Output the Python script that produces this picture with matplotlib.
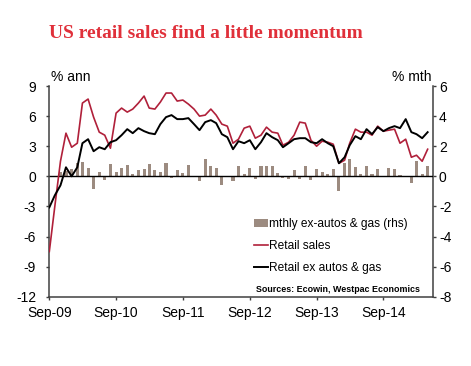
import numpy as np
import pandas as pd
import matplotlib
matplotlib.use("Agg")
import matplotlib.pyplot as plt
import matplotlib.dates as mdates
from matplotlib.patches import Patch
from matplotlib.lines import Line2D

# ── Data (Sep-09 .. May-15, monthly) ─────────────────────────
months = pd.date_range("2009-09-01", periods=69, freq="MS")

retail_sales = [
    -7.5, -3.0, 1.5, 4.3, 2.9, 3.3, 7.3, 7.7, 5.9, 4.4, 4.1, 2.8,
    6.3, 6.8, 6.4, 6.7, 7.3, 8.0, 6.8, 6.7, 7.4, 8.3, 8.3, 7.5,
    7.6, 7.2, 6.7, 6.0, 6.1, 6.7, 6.1, 5.2, 5.0, 3.3, 3.7, 4.8,
    5.0, 3.8, 4.1, 4.9, 4.4, 4.3, 3.1, 3.4, 4.1, 5.4, 5.3, 3.6,
    3.0, 3.5, 3.4, 3.2, 1.3, 1.6, 3.3, 4.7, 4.4, 4.4, 4.1, 5.0,
    4.5, 4.6, 4.7, 3.3, 3.7, 1.9, 2.1, 1.5, 2.7,
]
retail_ex = [
    -3.1, -1.9, -0.9, 0.9, 0.0, 0.9, 3.3, 3.7, 2.5, 2.9, 2.7, 3.4,
    3.6, 4.1, 4.7, 4.3, 4.8, 4.5, 4.3, 4.2, 5.2, 5.9, 6.1, 5.7,
    5.7, 5.8, 5.2, 4.6, 5.4, 5.6, 5.3, 4.2, 3.9, 2.7, 3.5, 3.3,
    3.6, 2.7, 3.4, 4.3, 3.9, 3.6, 2.9, 3.3, 3.7, 3.8, 3.8, 3.4,
    3.3, 3.7, 3.3, 3.0, 1.3, 1.9, 3.1, 4.0, 3.7, 4.7, 4.2, 4.9,
    4.5, 4.8, 5.0, 4.8, 5.7, 4.4, 4.2, 3.8, 4.4,
]
mthly_ex = [
    0.0, 0.0, 0.3, 0.35, 0.5, 0.9, 0.95, 0.58, -0.82, 0.29, -0.27, 0.8,
    0.27, 0.58, 0.72, 0.13, 0.4, 0.49, 0.8, 0.44, 0.27, 0.89, -0.09, 0.4,
    0.22, 0.78, 0.0, -0.31, 1.18, 0.69, 0.53, -0.56, 0.0, -0.33, 0.69, 0.18,
    0.56, -0.2, 0.71, 0.67, 0.71, 0.2, -0.09, -0.16, 0.4, -0.2, 0.67, -0.22,
    0.51, 0.29, 0.13, 0.47, -1.0, 0.91, 1.13, 0.62, 0.13, 0.71, 0.13, 0.51,
    0.0, 0.58, 0.51, 0.09, 0.0, -0.42, 1.02, 0.18, 0.67,
]

RED = "#b0203a"
BAR = "#9c8b80"
SPINE = "#404040"
FONT = "Liberation Sans"

plt.rcParams["font.family"] = FONT
plt.rcParams["axes.unicode_minus"] = False

fig = plt.figure(figsize=(4.71, 3.66), dpi=100)
ax = fig.add_axes([0.1047, 0.1893, 0.8153, 0.5757])
ax2 = ax.twinx()

# bars on the right axis, lines on top
ax2.bar(months, mthly_ex, width=17, color=BAR, zorder=2)
ax.set_zorder(ax2.get_zorder() + 1)
ax.patch.set_visible(False)

ax.axhline(0, color="black", lw=1.0, zorder=1)
ax.plot(months, retail_sales, color=RED, lw=1.2, zorder=3)
ax.plot(months, retail_ex, color="black", lw=1.4, zorder=4)

ax.set_ylim(-12, 9)
ax.set_yticks(np.arange(-12, 10, 3))
ax2.set_ylim(-8, 6)
ax2.set_yticks(np.arange(-8, 7, 2))

ax.set_xlim(pd.Timestamp("2009-09-01"), pd.Timestamp("2015-06-01"))
ax.xaxis.set_major_locator(mdates.MonthLocator(bymonth=9))
ax.xaxis.set_major_formatter(mdates.DateFormatter("%b-%y"))

for a in (ax, ax2):
    a.spines["top"].set_visible(False)
    for s in ("left", "right", "bottom"):
        a.spines[s].set_color(SPINE)
        a.spines[s].set_linewidth(1.1)
ax.spines["right"].set_visible(False)
ax2.spines["left"].set_visible(False)
ax2.spines["bottom"].set_visible(False)

ax.tick_params(axis="y", direction="out", length=2.5, width=1, color=SPINE,
               pad=7, labelsize=10)
ax.tick_params(axis="x", direction="out", length=2.5, width=1, color=SPINE,
               pad=4, labelsize=10)
ax2.tick_params(axis="y", direction="out", length=2.5, width=1, color=SPINE,
                pad=1.5, labelsize=10)

# ── Texts ─────────────────────────────────────────────────────
fig.text(49 / 471, 1 - 34 / 366, "US retail sales find a little momentum",
         family="Liberation Serif", weight="bold", fontsize=14,
         color="#e0303a", va="center", ha="left")
fig.text(51 / 471, 1 - 77 / 366, "% ann", fontsize=10, va="center", ha="left")
fig.text(432 / 471, 1 - 77 / 366, "% mth", fontsize=10, va="center", ha="right")

handles = [
    Patch(facecolor=BAR, edgecolor="none"),
    Line2D([], [], color=RED, lw=1.2),
    Line2D([], [], color="black", lw=1.4),
]
labels = ["mthly ex-autos & gas (rhs)", "Retail sales", "Retail ex autos & gas"]
ax.legend(handles, labels, loc="upper left",
          bbox_to_anchor=(254 / 471, 1 - 218 / 366),
          bbox_transform=fig.transFigure, frameon=False, fontsize=8.6,
          borderpad=0, borderaxespad=0, handlelength=1.15, handleheight=0.6,
          handletextpad=0.1, labelspacing=0.85)

fig.text(256 / 471, 1 - 289 / 366, "Sources: Ecowin, Westpac Economics",
         fontsize=6.4, weight="bold", va="center", ha="left")

fig.savefig("out.png", dpi=100)
